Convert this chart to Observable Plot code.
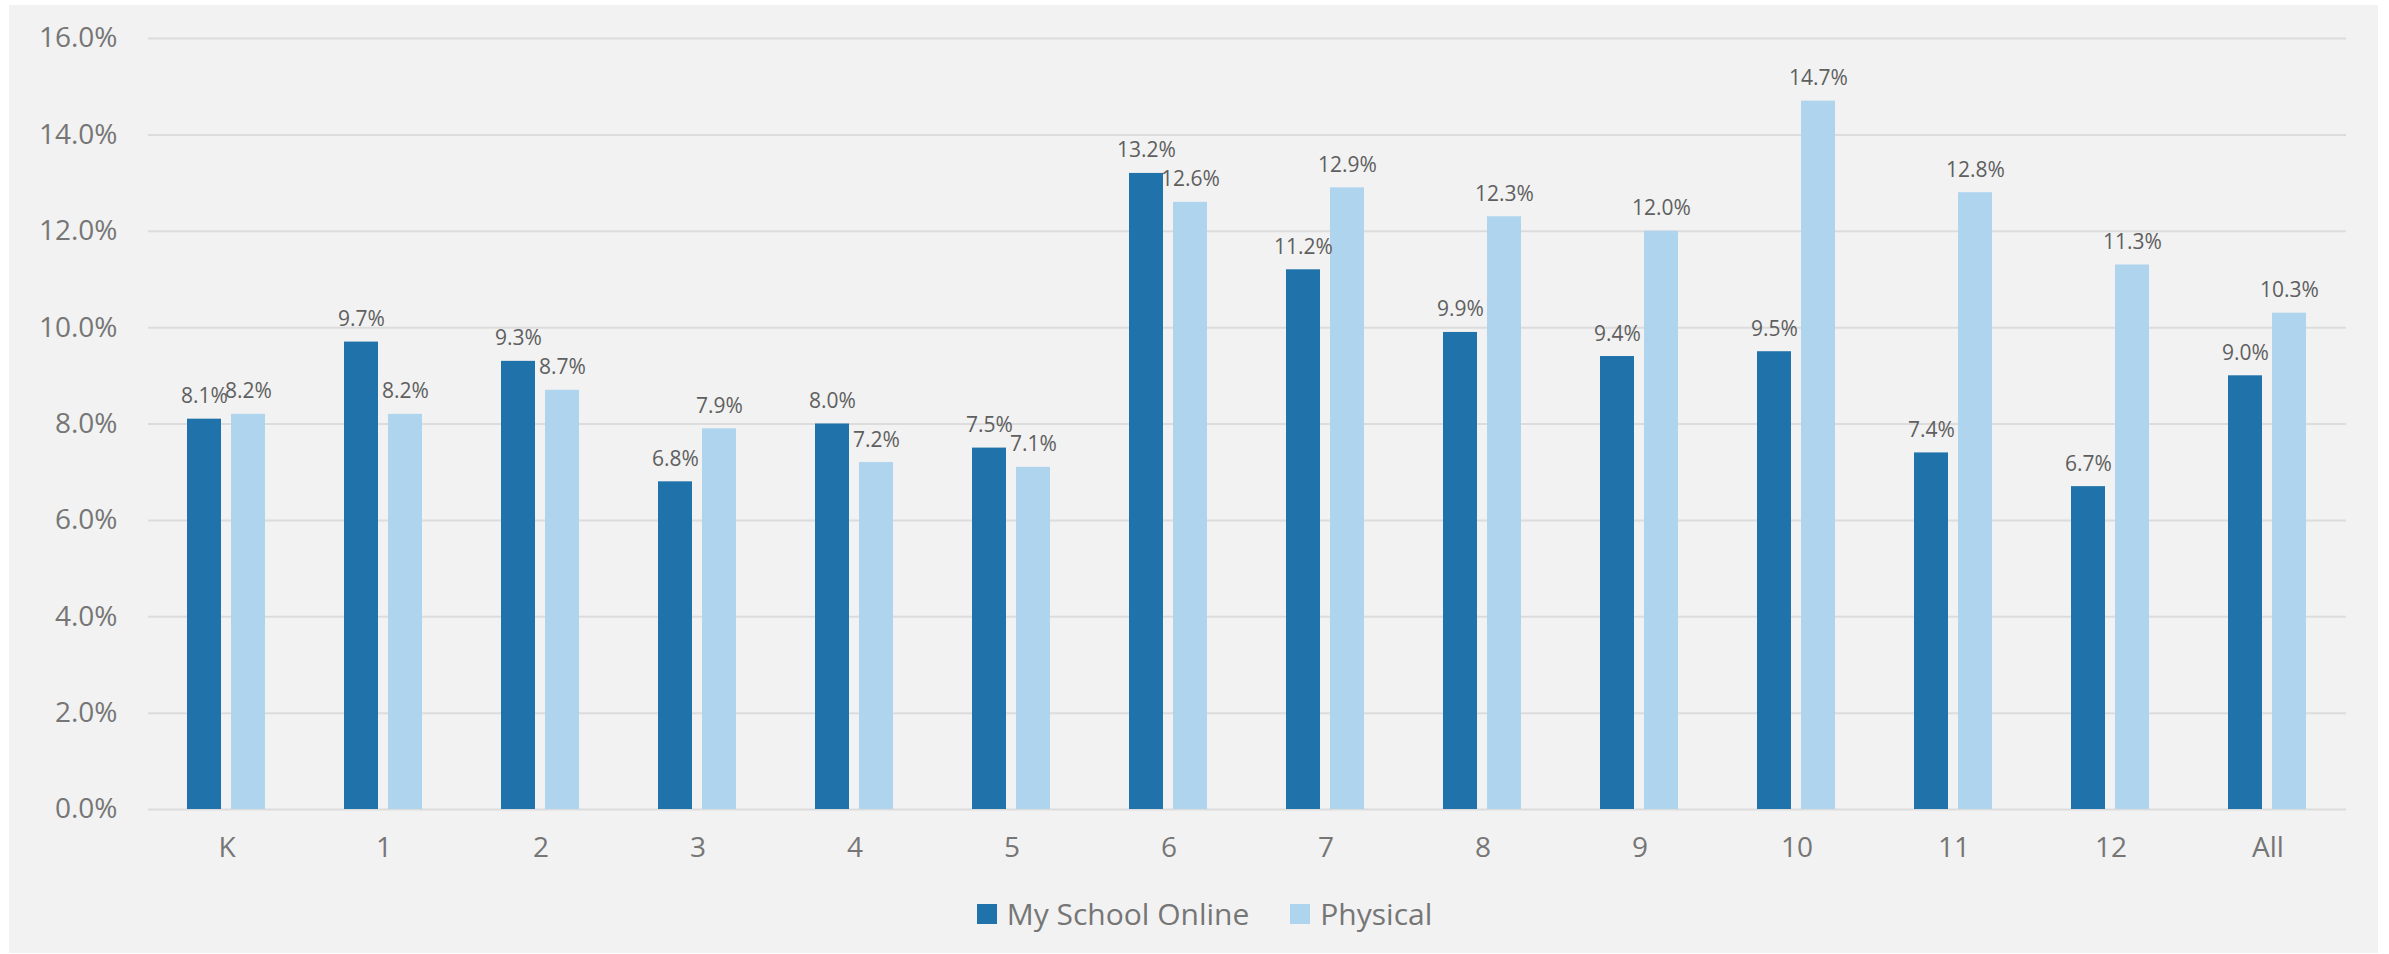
<!DOCTYPE html>
<html>
<head>
<meta charset="utf-8">
<script src="https://cdn.jsdelivr.net/npm/d3@7"></script>
<script src="https://cdn.jsdelivr.net/npm/@observablehq/plot@0.6"></script>
<style>
  html, body { margin: 0; padding: 0; background: #ffffff; }
  #panel { position: absolute; left: 9px; top: 5px; width: 2369px; height: 948px; background: #f2f2f2; font-family: "Open Sans", "Noto Sans", sans-serif; }
  #chart svg { display: block; }
  #legend { display: flex; justify-content: center; align-items: center; gap: 41px; margin-top: 17px; padding-left: 22px; font-size: 30px; line-height: 36px; color: #767676; }
  .item { display: flex; align-items: center; gap: 10px; }
  .sw { width: 20px; height: 20px; display: inline-block; }
</style>
</head>
<body>
<div id="panel"><div id="chart"></div><div id="legend"></div></div>
<script>
const grades = ["K", "1", "2", "3", "4", "5", "6", "7", "8", "9", "10", "11", "12", "All"];
const series = ["My School Online", "Physical"];
const online = [8.1, 9.7, 9.3, 6.8, 8.0, 7.5, 13.2, 11.2, 9.9, 9.4, 9.5, 7.4, 6.7, 9.0];
const physical = [8.2, 8.2, 8.7, 7.9, 7.2, 7.1, 12.6, 12.9, 12.3, 12.0, 14.7, 12.8, 11.3, 10.3];
const colors = ["#1f72aa", "#aed4ee"];
const yTicks = [0, 2, 4, 6, 8, 10, 12, 14, 16];

const data = [];
grades.forEach((g, i) => {
  data.push({grade: g, series: series[0], value: online[i]});
  data.push({grade: g, series: series[1], value: physical[i]});
});
const fmt = d => d.toFixed(1) + "%";

const chart = Plot.plot({
  width: 2369,
  height: 874,
  marginTop: 33,
  marginLeft: 136,
  marginRight: 30,
  marginBottom: 70,
  style: {background: "transparent", fontFamily: "'Open Sans', 'Noto Sans', sans-serif"},
  fx: {domain: grades, padding: 0, label: null},
  x: {domain: series, paddingInner: 0.222, paddingOuter: 0.86, axis: null},
  y: {domain: [0, 16], label: null},
  color: {domain: series, range: colors},
  marks: [
    Plot.gridY(yTicks, {stroke: "#dcdcdc", strokeOpacity: 1, strokeWidth: 2}),
    Plot.barY(data, {fx: "grade", x: "series", y: "value", fill: "series"}),
    Plot.text(data, {fx: "grade", x: "series", y: "value", text: d => fmt(d.value), lineAnchor: "bottom", dy: -16, fontSize: 21, fill: "#5f5f5f"}),
    Plot.axisY(yTicks, {tickFormat: fmt, tickSize: 0, tickPadding: 31, fontSize: 28, color: "#767676", label: null}),
    Plot.axisFx({anchor: "bottom", tickSize: 0, tickPadding: 28, fontSize: 28, color: "#767676", label: null})
  ]
});
document.getElementById("chart").appendChild(chart);

const legend = document.getElementById("legend");
series.forEach((s, i) => {
  const it = document.createElement("div");
  it.className = "item";
  it.innerHTML = `<span class="sw" style="background:${colors[i]}"></span><span>${s}</span>`;
  legend.appendChild(it);
});
</script>
</body>
</html>
